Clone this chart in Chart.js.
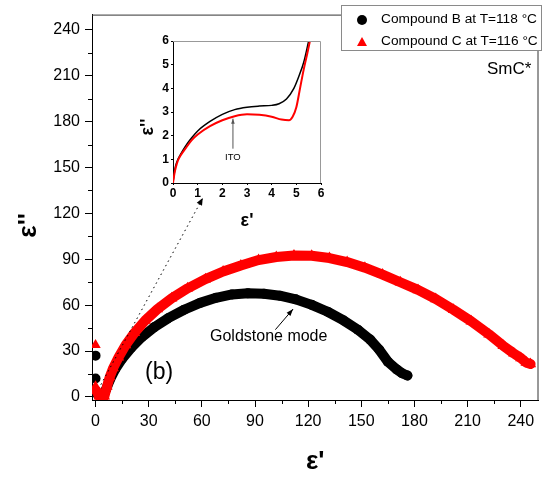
<!DOCTYPE html>
<html lang="en">
<head>
  <meta charset="UTF-8" />
  <title>Cole-Cole plot SmC*</title>
  <script src="https://cdn.jsdelivr.net/npm/chart.js"></script>
  <style>
    html, body { margin: 0; padding: 0; background: #fff; }
    #wrap { position: relative; width: 545px; height: 479px; font-family: "Liberation Sans", Arial, sans-serif; color: #000; }
    #main { position: absolute; left: 0; top: 0; }
    #inset { position: absolute; left: 130px; top: 25px; }
    .lbl { position: absolute; white-space: nowrap; line-height: 1; }
    #legend { position: absolute; left: 341px; top: 5px; width: 201px; height: 46px; box-sizing: border-box; border: 1px solid #8a8a8a; background: #fff; }
  </style>
</head>
<body>
<div id="wrap">
  <canvas id="main" width="545" height="479"></canvas>
  <canvas id="inset" width="200" height="210"></canvas>

  <!-- legend -->
  <div id="legend"></div>
  <div class="lbl" style="left:357px; top:14.5px; width:10px; height:10px; border-radius:50%; background:#000;"></div>
  <div class="lbl" style="left:381px; top:12px; font-size:13.7px;">Compound B at T=118 °C</div>
  <div class="lbl" style="left:356.5px; top:36.5px; width:0; height:0; border-left:5.5px solid transparent; border-right:5.5px solid transparent; border-bottom:9px solid #f00;"></div>
  <div class="lbl" style="left:381px; top:34px; font-size:13.7px;">Compound C at T=116 °C</div>

  <div class="lbl" style="left:487px; top:60px; font-size:17px;">SmC*</div>
  <div class="lbl" style="left:145px; top:360px; font-size:23px;">(b)</div>
  <div class="lbl" style="left:210px; top:327.5px; font-size:16px;">Goldstone mode</div>
  <div class="lbl" style="left:225px; top:152px; font-size:9.5px;">ITO</div>
</div>

<script>
  // main plot: epsilon' vs epsilon''
  const xTicks = [0, 30, 60, 90, 120, 150, 180, 210, 240];
  const yTicks = [0, 30, 60, 90, 120, 150, 180, 210, 240];
  const insetTicks = [0, 1, 2, 3, 4, 5, 6];

  // Compound B at T=118 C
  const seriesB = [
    [1, 2], [4, 0.5], [6, 5], [8, 11], [11, 18], [15, 25], [20, 32], [26, 39],
    [33, 45.5], [41, 51.5], [50, 57], [59, 61.5], [68, 64.8], [77, 67], [86, 67.8],
    [95, 67.5], [104, 66.2], [113, 63.8], [122, 60.2], [131, 55.7], [140, 50],
    [148, 44], [155, 37.5], [160, 31], [165, 23], [170, 18], [173, 15.5], [176, 14]
  ];
  const outliersB = [[0, 27], [0, 12]];

  // Compound C at T=116 C
  const seriesC = [
    [0.5, 4], [2, 0.5], [5, 0.5], [6.5, 7], [8, 13], [10, 19], [13, 26], [17, 34],
    [22, 42], [28, 50], [35, 57.5], [43, 64.5], [52, 71], [62, 77], [72, 82], [82, 86],
    [92, 89.5], [102, 91.5], [112, 92.5], [122, 92.3], [132, 90.8], [142, 88.2],
    [152, 84.5], [162, 80], [172, 75], [182, 70], [192, 64], [202, 57], [212, 49.5],
    [222, 41], [230, 33.5], [236, 28.5], [240, 25.5], [243, 22.5], [245.5, 21.5]
  ];
  const outliersC = [[0, 34], [0, 7]];

  // inset (ITO region)
  const insetB = [
    [0, 0], [0.05, 0.4], [0.1, 0.7], [0.2, 1.0], [0.3, 1.2], [0.5, 1.55], [0.75, 1.9],
    [1, 2.2], [1.5, 2.6], [2, 2.9], [2.5, 3.1], [3, 3.2], [3.5, 3.25], [4, 3.28],
    [4.3, 3.35], [4.6, 3.55], [4.9, 4.0], [5.1, 4.5], [5.3, 5.1], [5.5, 6.0]
  ];
  const insetC = [
    [0, 0], [0.05, 0.35], [0.1, 0.6], [0.2, 0.95], [0.3, 1.15], [0.5, 1.45], [0.75, 1.8],
    [1, 2.05], [1.5, 2.4], [2, 2.65], [2.5, 2.82], [3, 2.9], [3.5, 2.88], [4, 2.8],
    [4.4, 2.68], [4.7, 2.65], [4.85, 2.8], [5.0, 3.2], [5.15, 4.0], [5.3, 4.8],
    [5.45, 5.5], [5.55, 6.0]
  ];

  const pts = a => a.map(p => ({ x: p[0], y: p[1] }));
  const FONT = '"Liberation Sans", Arial, sans-serif';

  function arrow(ctx, x1, y1, x2, y2, len, half, color, dashed) {
    ctx.save();
    ctx.strokeStyle = color; ctx.fillStyle = color; ctx.lineWidth = 1;
    if (dashed) ctx.setLineDash([1.5, 3.5]);
    ctx.beginPath(); ctx.moveTo(x1, y1); ctx.lineTo(x2, y2); ctx.stroke();
    ctx.setLineDash([]);
    const a = Math.atan2(y2 - y1, x2 - x1);
    ctx.beginPath();
    ctx.moveTo(x2, y2);
    ctx.lineTo(x2 - len * Math.cos(a) + half * Math.sin(a), y2 - len * Math.sin(a) - half * Math.cos(a));
    ctx.lineTo(x2 - len * Math.cos(a) - half * Math.sin(a), y2 - len * Math.sin(a) + half * Math.cos(a));
    ctx.closePath(); ctx.fill();
    ctx.restore();
  }

  // box frame + minor ticks
  function frame(color, minorLen, minor) {
    return {
      id: 'frame',
      afterDraw(chart) {
        const { ctx, chartArea: ca, scales: { x, y } } = chart;
        ctx.save();
        ctx.strokeStyle = color; ctx.lineWidth = 1;
        ctx.beginPath();
        ctx.moveTo(ca.left, ca.top + 0.5);
        ctx.lineTo(ca.right - 0.5, ca.top + 0.5);
        ctx.lineTo(ca.right - 0.5, ca.bottom);
        ctx.stroke();
        if (minor) {
          ctx.strokeStyle = '#000';
          ctx.beginPath();
          for (let i = 0; i < minor.x.length - 1; i++) {
            const px = Math.round(x.getPixelForValue((minor.x[i] + minor.x[i + 1]) / 2)) + 0.5;
            ctx.moveTo(px, ca.bottom); ctx.lineTo(px, ca.bottom + minorLen);
          }
          for (let i = 0; i < minor.y.length - 1; i++) {
            const py = Math.round(y.getPixelForValue((minor.y[i] + minor.y[i + 1]) / 2)) + 0.5;
            ctx.moveTo(ca.left, py); ctx.lineTo(ca.left - minorLen, py);
          }
          ctx.stroke();
        }
        ctx.restore();
      }
    };
  }

  const mainNotes = {
    id: 'mainNotes',
    afterDatasetsDraw(chart) {
      const { ctx, scales: { x, y } } = chart;
      // dotted pointer to the inset
      arrow(ctx, x.getPixelForValue(3), y.getPixelForValue(8),
        x.getPixelForValue(60.5), y.getPixelForValue(130), 7, 3, '#000', true);
      // Goldstone mode pointer
      arrow(ctx, x.getPixelForValue(101.5), y.getPixelForValue(44),
        x.getPixelForValue(111.5), y.getPixelForValue(57.5), 7, 2.5, '#000', false);
    }
  };

  const insetNotes = {
    id: 'insetNotes',
    afterDatasetsDraw(chart) {
      const { ctx, scales: { x, y } } = chart;
      arrow(ctx, x.getPixelForValue(2.43), y.getPixelForValue(1.45),
        x.getPixelForValue(2.43), y.getPixelForValue(2.72), 5, 1.8, '#555', false);
    }
  };

  function axis(min, max, ticks, fit, extra) {
    return Object.assign({
      type: 'linear', min: min, max: max,
      afterBuildTicks: s => { s.ticks = ticks.map(v => ({ value: v })); },
      afterFit: fit,
      border: { display: true, color: '#000', width: 1 }
    }, extra);
  }

  new Chart(document.getElementById('main'), {
    type: 'scatter',
    data: {
      datasets: [
        { label: 'Compound C at T=116 °C', data: pts(seriesC), showLine: true,
          borderColor: '#ff0000', backgroundColor: '#ff0000', borderWidth: 10,
          borderJoinStyle: 'round', borderCapStyle: 'round',
          pointStyle: 'triangle', pointRadius: 6.5, pointBorderWidth: 0, order: 1 },
        { label: 'C low', data: pts(outliersC), backgroundColor: '#ff0000',
          pointStyle: 'triangle', pointRadius: 6, pointBorderWidth: 0, order: 1 },
        { label: 'Compound B at T=118 °C', data: pts(seriesB), showLine: true,
          borderColor: '#000', backgroundColor: '#000', borderWidth: 10,
          borderJoinStyle: 'round', borderCapStyle: 'round',
          pointStyle: 'circle', pointRadius: 5, pointBorderWidth: 0, order: 2 },
        { label: 'B low', data: pts(outliersB), backgroundColor: '#000',
          pointStyle: 'circle', pointRadius: 5, pointBorderWidth: 0, order: 2 }
      ]
    },
    options: {
      responsive: false, animation: false, devicePixelRatio: 1,
      layout: { padding: { top: 5, right: 4, left: 0, bottom: 0 } },
      plugins: { legend: { display: false }, tooltip: { enabled: false } },
      scales: {
        x: axis(-2, 250, xTicks, s => { s.height = 79; }, {
          ticks: { color: '#000', font: { family: FONT, size: 16 }, padding: 5 },
          grid: { drawOnChartArea: false, tickLength: 7, color: '#000' },
          title: { display: true, text: "ε'", color: '#000',
            font: { family: FONT, size: 26, weight: 'bold' }, padding: { top: 0, bottom: 2 } }
        }),
        y: axis(-2, 250, yTicks, s => { s.width = 92; }, {
          ticks: { color: '#000', font: { family: FONT, size: 16 }, padding: 5 },
          grid: { drawOnChartArea: false, tickLength: 7, color: '#000' },
          title: { display: true, text: "ε''     ", color: '#000',
            font: { family: FONT, size: 26, weight: 'bold' }, padding: { top: 13, bottom: 0 } }
        })
      }
    },
    plugins: [frame('#333', 4, { x: xTicks, y: yTicks }), mainNotes]
  });

  new Chart(document.getElementById('inset'), {
    type: 'scatter',
    data: {
      datasets: [
        { label: 'Compound C', data: pts(insetC), showLine: true, borderColor: '#ff0000',
          borderWidth: 2, pointRadius: 0, cubicInterpolationMode: 'monotone', order: 1 },
        { label: 'Compound B', data: pts(insetB), showLine: true, borderColor: '#000',
          borderWidth: 1.5, pointRadius: 0, cubicInterpolationMode: 'monotone', order: 2 }
      ]
    },
    options: {
      responsive: false, animation: false, devicePixelRatio: 1,
      layout: { padding: { top: 16, right: 9, left: 0, bottom: 0 } },
      plugins: { legend: { display: false }, tooltip: { enabled: false } },
      scales: {
        x: axis(0, 6, insetTicks, s => { s.height = 52; }, {
          ticks: { color: '#000', font: { family: FONT, size: 12, weight: 'bold' }, padding: 1 },
          grid: { drawOnChartArea: false, tickLength: 2, color: '#000' },
          title: { display: true, text: "ε'", color: '#000',
            font: { family: FONT, size: 18, weight: 'bold' }, padding: { top: 0, bottom: 3 } }
        }),
        y: axis(0, 6, insetTicks, s => { s.width = 43; }, {
          ticks: { color: '#000', font: { family: FONT, size: 12, weight: 'bold' }, padding: 2 },
          grid: { drawOnChartArea: false, tickLength: 2, color: '#000' },
          title: { display: true, text: "ε''      ", color: '#000',
            font: { family: FONT, size: 18, weight: 'bold' }, padding: { top: 7, bottom: 0 } }
        })
      }
    },
    plugins: [frame('#999', 0, null), insetNotes]
  });
</script>
</body>
</html>
